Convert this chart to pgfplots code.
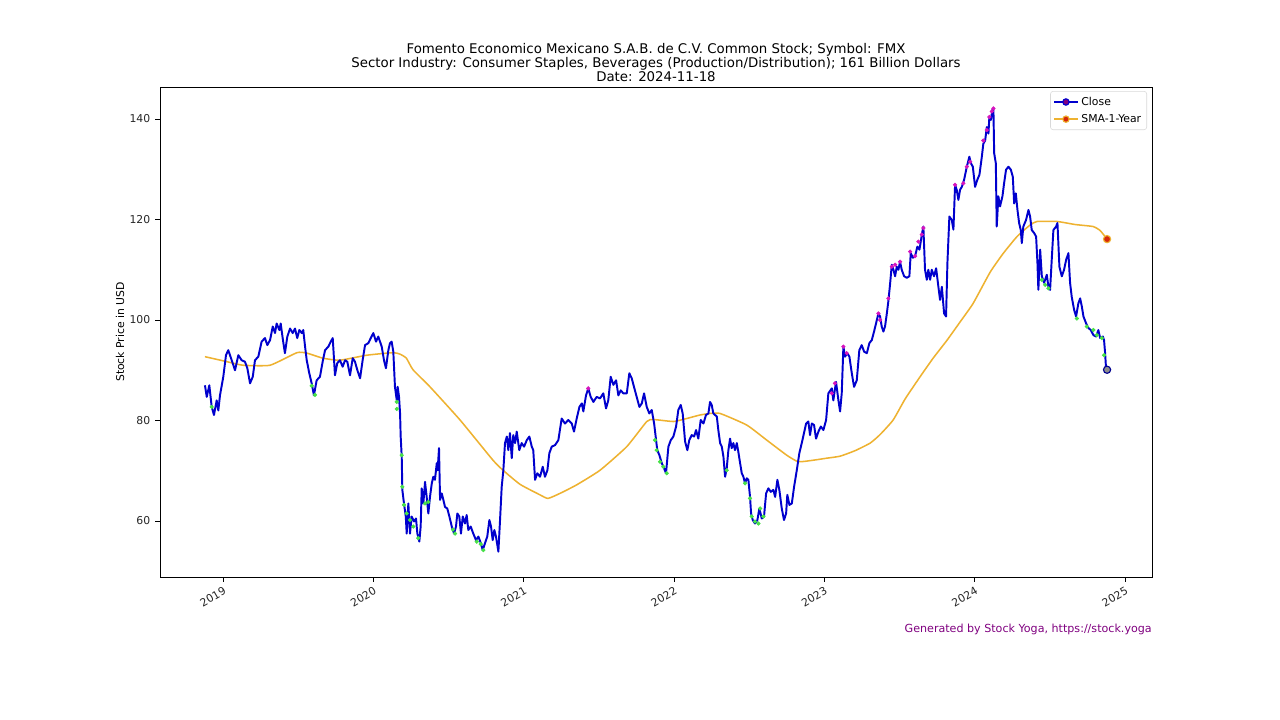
\documentclass[border=0pt]{standalone}
\usepackage{fontspec}
\setmainfont{DejaVu Sans}
\usepackage{pgfplots}
\usepackage{pgfplotstable}
\pgfplotsset{compat=1.18}
\definecolor{closeblue}{RGB}{0,0,205}
\definecolor{smaorange}{RGB}{238,178,48}
\definecolor{greenmark}{RGB}{70,225,70}
\definecolor{magmark}{RGB}{215,20,190}
\definecolor{footpurple}{RGB}{128,0,128}
\definecolor{smared}{RGB}{215,40,10}

\pgfplotstableread{
x y
2018.880 87.0
2018.892 84.7
2018.909 87.0
2018.925 82.7
2018.940 81.1
2018.958 84.0
2018.969 82.0
2018.980 85.0
2019.002 88.7
2019.020 93.0
2019.035 94.0
2019.058 92.0
2019.080 90.0
2019.102 93.0
2019.124 92.0
2019.146 91.7
2019.162 90.4
2019.180 87.4
2019.198 88.7
2019.213 92.0
2019.235 92.7
2019.257 95.7
2019.279 96.4
2019.295 95.0
2019.313 96.0
2019.331 98.7
2019.346 97.4
2019.357 99.3
2019.375 98.0
2019.384 99.3
2019.397 96.4
2019.412 93.4
2019.428 96.7
2019.446 98.3
2019.464 97.4
2019.479 98.3
2019.494 96.4
2019.508 98.0
2019.524 97.4
2019.534 98.0
2019.546 94.7
2019.557 92.0
2019.574 89.4
2019.590 87.4
2019.605 85.0
2019.623 88.0
2019.645 88.7
2019.663 91.7
2019.679 94.0
2019.701 94.7
2019.717 95.7
2019.730 96.4
2019.745 89.0
2019.760 91.4
2019.778 92.0
2019.796 90.7
2019.812 92.0
2019.827 91.7
2019.845 89.0
2019.863 92.4
2019.878 91.7
2019.894 90.0
2019.912 88.4
2019.929 92.0
2019.945 95.0
2019.967 95.4
2019.983 96.4
2020.000 97.4
2020.018 95.7
2020.033 96.7
2020.056 94.7
2020.071 92.0
2020.084 90.4
2020.100 94.0
2020.111 95.4
2020.122 95.7
2020.133 93.7
2020.144 86.7
2020.156 84.0
2020.162 86.7
2020.171 84.7
2020.178 81.4
2020.182 76.8
2020.189 72.8
2020.193 66.2
2020.204 63.5
2020.216 60.9
2020.222 57.5
2020.233 63.5
2020.244 57.5
2020.255 60.9
2020.271 59.9
2020.284 60.5
2020.293 57.5
2020.306 55.9
2020.315 58.9
2020.322 66.5
2020.333 63.5
2020.344 67.8
2020.355 64.8
2020.366 61.5
2020.377 64.8
2020.389 67.5
2020.399 68.8
2020.410 68.2
2020.422 71.5
2020.428 70.1
2020.437 74.5
2020.444 64.2
2020.455 65.5
2020.466 64.2
2020.477 62.8
2020.492 62.5
2020.506 60.9
2020.522 58.9
2020.537 57.5
2020.550 58.9
2020.559 61.5
2020.572 60.9
2020.583 57.5
2020.595 60.9
2020.610 59.5
2020.621 61.2
2020.632 58.2
2020.648 58.9
2020.665 57.5
2020.683 56.2
2020.699 56.9
2020.715 55.6
2020.728 54.2
2020.743 55.6
2020.758 56.9
2020.772 60.2
2020.783 58.9
2020.794 56.2
2020.805 58.2
2020.816 56.9
2020.832 53.9
2020.843 60.2
2020.854 66.8
2020.865 70.1
2020.876 75.5
2020.888 76.8
2020.898 74.1
2020.909 77.5
2020.921 72.5
2020.931 77.1
2020.943 75.5
2020.954 77.8
2020.971 74.1
2020.987 75.5
2021.003 74.8
2021.021 76.1
2021.038 76.8
2021.054 74.8
2021.064 74.1
2021.076 68.2
2021.091 69.5
2021.109 68.8
2021.127 70.8
2021.142 68.8
2021.158 70.1
2021.171 73.5
2021.187 74.8
2021.209 75.1
2021.231 76.1
2021.253 80.4
2021.275 79.4
2021.297 80.1
2021.320 79.4
2021.335 77.8
2021.353 80.4
2021.371 82.7
2021.387 83.4
2021.397 81.8
2021.415 85.0
2021.430 86.4
2021.446 84.7
2021.464 83.7
2021.486 84.7
2021.508 84.4
2021.530 85.4
2021.548 82.4
2021.563 84.0
2021.579 88.7
2021.597 87.1
2021.615 88.0
2021.630 85.0
2021.646 86.0
2021.663 85.4
2021.686 85.4
2021.703 89.4
2021.719 88.4
2021.734 86.7
2021.752 84.7
2021.770 82.7
2021.786 83.4
2021.801 85.4
2021.819 82.7
2021.836 81.4
2021.852 82.1
2021.868 79.4
2021.881 76.1
2021.889 74.1
2021.903 73.1
2021.919 71.5
2021.934 70.5
2021.947 69.5
2021.963 74.8
2021.979 76.1
2021.996 76.8
2022.014 78.8
2022.029 82.1
2022.045 83.1
2022.058 81.4
2022.074 75.8
2022.089 74.1
2022.102 76.1
2022.118 77.1
2022.134 76.8
2022.147 78.1
2022.162 76.4
2022.178 80.1
2022.196 79.4
2022.213 81.1
2022.229 81.4
2022.240 83.7
2022.251 83.1
2022.262 81.4
2022.285 80.8
2022.295 78.1
2022.307 75.5
2022.318 74.8
2022.329 72.8
2022.340 68.8
2022.351 70.5
2022.362 74.1
2022.373 76.4
2022.384 74.5
2022.395 75.5
2022.406 74.1
2022.418 75.5
2022.428 73.8
2022.440 71.5
2022.451 69.5
2022.462 68.8
2022.473 67.5
2022.484 68.5
2022.495 68.2
2022.506 64.8
2022.513 61.5
2022.524 60.2
2022.539 59.5
2022.555 60.2
2022.568 62.5
2022.584 60.5
2022.599 60.9
2022.613 65.5
2022.628 66.5
2022.644 65.8
2022.661 66.2
2022.673 64.8
2022.688 68.2
2022.701 66.2
2022.717 62.5
2022.732 60.2
2022.746 61.5
2022.754 65.2
2022.768 63.2
2022.784 63.5
2022.799 66.8
2022.817 70.1
2022.834 73.5
2022.850 75.5
2022.865 77.5
2022.879 79.4
2022.894 79.8
2022.905 77.1
2022.917 79.4
2022.932 79.1
2022.945 76.4
2022.961 77.8
2022.977 78.8
2022.994 78.1
2023.012 80.1
2023.027 85.4
2023.050 86.4
2023.060 84.0
2023.078 87.7
2023.094 84.0
2023.105 81.8
2023.116 85.4
2023.127 94.7
2023.138 92.7
2023.153 93.4
2023.167 92.7
2023.183 89.4
2023.198 86.7
2023.216 88.0
2023.233 94.0
2023.249 95.0
2023.265 93.7
2023.283 93.4
2023.300 95.4
2023.316 96.0
2023.331 97.7
2023.344 99.3
2023.360 101.3
2023.371 100.7
2023.382 98.7
2023.393 97.7
2023.404 98.7
2023.416 101.3
2023.426 103.7
2023.438 107.3
2023.449 111.0
2023.460 110.0
2023.471 108.7
2023.482 110.6
2023.493 110.0
2023.504 111.6
2023.515 110.0
2023.531 108.7
2023.549 108.4
2023.566 108.7
2023.575 113.3
2023.589 112.4
2023.604 112.7
2023.619 114.6
2023.633 114.0
2023.649 117.0
2023.659 118.6
2023.670 110.0
2023.682 108.0
2023.692 110.0
2023.704 108.0
2023.715 110.0
2023.730 108.7
2023.744 110.3
2023.759 106.6
2023.770 104.0
2023.782 106.6
2023.797 101.3
2023.810 100.7
2023.819 111.3
2023.832 120.6
2023.848 119.9
2023.859 118.0
2023.870 126.9
2023.881 125.9
2023.892 123.9
2023.903 125.9
2023.915 126.5
2023.930 127.9
2023.948 130.5
2023.965 132.5
2023.975 131.2
2023.988 130.5
2024.003 126.5
2024.018 127.9
2024.032 128.9
2024.048 132.5
2024.058 135.1
2024.070 135.7
2024.081 138.4
2024.092 137.1
2024.098 140.4
2024.108 139.8
2024.118 141.8
2024.125 142.1
2024.130 133.2
2024.141 131.2
2024.147 118.6
2024.158 124.6
2024.169 122.6
2024.185 124.6
2024.196 127.2
2024.209 129.9
2024.225 130.5
2024.241 129.9
2024.254 128.5
2024.263 123.2
2024.274 125.2
2024.285 121.9
2024.296 119.3
2024.307 117.9
2024.314 115.3
2024.324 118.6
2024.342 119.9
2024.358 121.9
2024.369 120.6
2024.380 117.9
2024.396 117.3
2024.409 116.6
2024.418 111.3
2024.424 106.0
2024.436 114.0
2024.447 108.7
2024.462 107.4
2024.480 109.0
2024.491 106.6
2024.502 106.0
2024.513 112.0
2024.524 117.9
2024.542 118.6
2024.551 119.3
2024.564 110.6
2024.580 108.7
2024.595 110.0
2024.609 112.0
2024.624 113.3
2024.635 107.4
2024.646 104.6
2024.662 102.0
2024.675 100.7
2024.690 103.3
2024.702 104.3
2024.713 102.7
2024.724 100.7
2024.742 99.3
2024.757 98.4
2024.773 98.0
2024.790 97.0
2024.808 96.7
2024.823 98.0
2024.835 96.4
2024.853 96.7
2024.861 96.0
2024.868 93.4
2024.875 90.0
2024.881 90.1
}\closedata

\pgfplotstableread{
x y
2018.880 92.7
2019.027 91.7
2019.133 91.0
2019.313 91.0
2019.492 93.5
2019.559 93.4
2019.665 92.4
2019.778 92.0
2019.958 93.0
2020.131 93.5
2020.178 93.2
2020.220 92.4
2020.264 90.1
2020.377 86.7
2020.577 80.1
2020.796 72.1
2020.863 70.1
2020.976 67.3
2021.109 65.2
2021.162 64.5
2021.242 65.5
2021.353 67.2
2021.508 70.1
2021.686 74.8
2021.819 79.8
2021.863 80.2
2021.996 79.8
2022.085 80.4
2022.174 81.1
2022.240 81.4
2022.307 81.4
2022.484 79.1
2022.617 76.1
2022.750 73.1
2022.827 71.8
2022.927 72.1
2023.016 72.5
2023.105 72.9
2023.205 74.0
2023.305 75.5
2023.371 77.2
2023.458 80.1
2023.538 84.3
2023.637 88.7
2023.724 92.4
2023.817 96.0
2023.903 99.6
2023.990 103.3
2024.103 109.5
2024.189 113.2
2024.282 116.6
2024.369 118.9
2024.415 119.6
2024.549 119.6
2024.669 119.0
2024.788 118.6
2024.835 117.8
2024.881 116.1
}\smadata

\pgfplotstableread{
x y
2018.925 82.7
2019.590 86.9
2019.612 85.1
2020.156 83.7
2020.156 82.3
2020.189 73.1
2020.193 66.8
2020.204 63.2
2020.222 61.5
2020.244 60.2
2020.266 58.9
2020.299 56.6
2020.344 63.5
2020.366 63.8
2020.530 58.3
2020.544 57.5
2020.688 55.9
2020.715 55.4
2020.732 54.2
2021.874 76.1
2021.885 74.1
2021.907 71.8
2021.929 70.8
2021.952 69.5
2022.351 70.1
2022.473 67.5
2022.506 64.5
2022.517 60.9
2022.539 59.9
2022.562 59.5
2022.573 62.5
2022.595 60.9
2024.447 108.0
2024.469 107.0
2024.491 106.3
2024.680 100.3
2024.746 98.7
2024.790 98.0
2024.813 97.0
2024.846 96.4
2024.861 93.0
}\lowdata

\pgfplotstableread{
x y
2021.430 86.4
2023.050 85.4
2023.071 87.4
2023.127 94.7
2023.149 93.4
2023.360 101.3
2023.371 100.0
2023.426 104.3
2023.449 110.6
2023.471 111.0
2023.504 111.6
2023.571 113.6
2023.604 112.7
2023.626 115.6
2023.649 117.0
2023.659 118.3
2023.870 126.9
2023.925 127.2
2023.948 130.5
2023.970 131.5
2024.058 135.7
2024.081 137.8
2024.098 140.4
2024.114 141.5
2024.125 142.1
}\highdata

\begin{document}
\begin{tikzpicture}
\useasboundingbox[fill=white] (0,0) rectangle (921.6pt,518.4pt);
\begin{axis}[
  at={(115.2pt,102.96pt)}, anchor=south west,
  width=714.24pt, height=352.8pt, scale only axis,
  xmin=2018.581, xmax=2025.180, ymin=48.86, ymax=146.37,
  axis line style={black, line width=0.6pt},
  tick align=outside, xtick pos=bottom, ytick pos=left,
  major tick length=3.5pt,
  tick style={black, line width=0.6pt},
  xtick={2019,2020,2021,2022,2023,2024,2025},
  xticklabels={2019,2020,2021,2022,2023,2024,2025},
  ytick={60,80,100,120,140},
  yticklabels={60,80,100,120,140},
  tick label style={font=\fontsize{7.8}{9}\selectfont, text=black!85},
  x tick label style={rotate=30, anchor=north east, inner sep=1.5pt, yshift=-1pt},
  /pgf/number format/assume math mode=true,
  legend cell align=left,
  legend style={at={(1,1)}, anchor=north east, xshift=-3.6pt, yshift=-2.9pt,
    draw=black!15, rounded corners=2pt, font=\fontsize{7.8}{9.5}\selectfont,
    inner sep=2pt, row sep=1pt},
]
\addlegendimage{color=closeblue, line width=1.2pt, mark=*, mark size=2.3pt, mark options={fill=footpurple, draw=closeblue, line width=0.8pt}}
\addlegendentry{Close}
\addlegendimage{color=smaorange, line width=1.2pt, mark=*, mark size=2.3pt, mark options={fill=smared, draw=smaorange, line width=0.8pt}}
\addlegendentry{SMA-1-Year}
\addplot[forget plot, color=smaorange, line width=1.1pt, smooth, tension=0.3] table[x=x,y=y] {\smadata};
\addplot[forget plot, color=closeblue, line width=1.4pt, line join=round] table[x=x,y=y] {\closedata};
\addplot[forget plot, only marks, mark=*, mark size=1.3pt, color=greenmark] table[x=x,y=y] {\lowdata};
\addplot[forget plot, only marks, mark=*, mark size=1.3pt, color=magmark] table[x=x,y=y] {\highdata};
\addplot[forget plot, only marks, mark=*, mark size=2.6pt, mark options={fill=black!45, draw=closeblue!70!black, line width=0.8pt}] coordinates {(2024.881,90.1)};
\addplot[forget plot, only marks, mark=*, mark size=2.6pt, mark options={fill=smared, draw=smaorange, line width=0.8pt}] coordinates {(2024.881,116.1)};
\end{axis}
\node[anchor=base, font=\fontsize{9.6}{11}\selectfont] at (472.32pt,480.2pt) {Fomento Economico Mexicano S.A.B. de C.V. Common Stock; Symbol: FMX};
\node[anchor=base, font=\fontsize{9.6}{11}\selectfont] at (472.32pt,470.1pt) {Sector Industry: Consumer Staples, Beverages (Production/Distribution); 161 Billion Dollars};
\node[anchor=base, font=\fontsize{9.6}{11}\selectfont] at (472.32pt,460.0pt) {Date: 2024-11-18};
\node[rotate=90, font=\fontsize{7.8}{9}\selectfont] at (86.4pt,279.36pt) {Stock Price in USD};
\node[anchor=base east, font=\fontsize{8}{9}\selectfont, text=footpurple, inner sep=0pt] at (829.44pt,62.64pt) {Generated by Stock Yoga, https://stock.yoga};
\end{tikzpicture}
\end{document}
